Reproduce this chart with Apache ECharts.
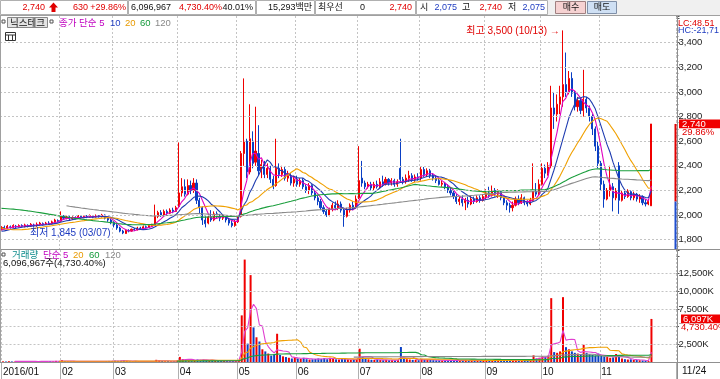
<!DOCTYPE html>
<html><head><meta charset="utf-8">
<script src="https://cdn.jsdelivr.net/npm/echarts@6/dist/echarts.min.js"></script>
<style>html,body{margin:0;padding:0;background:#fff}#c{width:720px;height:379px}</style>
</head><body><div id="c"></div>
<script>
// ---- data ----
const monthLabels = ['2016/01','02','03','04','05','06','07','08','09','10','11'];
const monthDays = [20,18,22,20,20,21,21,22,19,20,18];
const lastDateLabel = '11/24';
const emptySlots = 8;
// closes before the visible window (only used for the moving averages)
const priorCloses = [2450,2430,2420,2400,2410,2390,2370,2380,2350,2340,2330,2320,2300,2290,2280,2260,2250,2240,2230,2210,2200,2190,2180,2170,2160,2150,2140,2130,2120,
 1980,1950,1930,1910,1900,1910,1920,1900,1910,
 1960,1990,2010,2030,2050,2070,2080,2100,2110,2120,2130,2140,2150,2160,2170,2180,2190,2200,2210,
 2220,2210,2200,2200,2190,2190,2180,2180,2170,2170,2160,2160,2150,2150,2140,2140,2130,2130,2120,2110,
 2020,2000,1980,1960,1940,1920,1900,1890,1880,1870,1860,1860,1850,1850,1860,1860,1870,1870,1880,1880];
const opens = [
 1885,1900,1895,1905,1900,1910,1905,1915,1905,1915,1910,1920,1915,1925,1930,1925,1935,1930,1945,1955,
 1950,1990,1975,1985,1970,1980,1975,1990,1980,1990,1985,1995,1985,1995,1990,2000,1975,1960,
 1940,1920,1895,1870,1850,1875,1870,1885,1880,1895,1890,1905,1900,1915,1920,1990,2020,2000,2030,2015,2040,2030,
 2070,2180,2230,2170,2240,2200,2260,2120,2060,1960,1935,1985,1960,2010,1990,1975,1990,1960,1935,1915,
 1945,1990,2500,2600,2350,2600,2430,2500,2360,2410,2330,2380,2290,2240,2380,2330,2370,2300,2320,2260,
 2290,2250,2280,2230,2200,2240,2180,2140,2110,2060,2030,2000,2050,2080,2060,2090,2040,1990,2040,2080,2060,
 2140,2300,2260,2230,2250,2220,2250,2230,2270,2250,2290,2260,2280,2250,2380,2290,2270,2300,2320,2290,2310,
 2300,2370,2330,2360,2320,2300,2280,2250,2260,2230,2200,2180,2150,2110,2130,2100,2120,2090,2130,2110,2140,2120,
 2150,2180,2160,2200,2170,2190,2140,2100,2080,2060,2080,2130,2100,2140,2100,2090,2120,2200,2170,
 2250,2380,2340,2400,2870,2820,2900,2960,3060,3000,3110,2990,2880,2930,2850,2940,2870,2800,2700,2560,
 2420,2250,2130,2200,2230,2140,2400,2120,2180,2150,2190,2140,2170,2130,2150,2100,2090,2075];
const closes = [
 1900,1895,1910,1900,1915,1905,1915,1910,1920,1910,1925,1915,1925,1935,1925,1935,1930,1945,1960,1950,
 1995,1975,1985,1970,1980,1975,1990,1980,1990,1985,1995,1985,1995,1990,2000,1975,1960,1940,
 1920,1895,1870,1855,1875,1870,1885,1880,1895,1890,1905,1900,1915,1920,1990,2020,2000,2030,2015,2040,2030,2060,
 2180,2230,2170,2240,2200,2260,2120,2060,1960,1930,1985,1960,2010,1990,1975,1990,1960,1935,1915,1945,
 1990,2500,2600,2350,2620,2420,2520,2360,2410,2330,2380,2290,2230,2380,2330,2370,2300,2320,2260,2290,
 2250,2280,2230,2200,2240,2180,2140,2110,2060,2030,2000,2050,2080,2060,2090,2040,1990,2040,2080,2060,2130,
 2280,2260,2230,2250,2220,2250,2230,2270,2250,2290,2260,2280,2250,2270,2290,2270,2300,2320,2290,2310,2300,
 2370,2330,2360,2320,2300,2280,2250,2260,2230,2200,2180,2150,2110,2130,2100,2120,2090,2130,2110,2140,2120,2150,
 2180,2160,2200,2170,2190,2140,2100,2080,2060,2080,2130,2100,2140,2100,2090,2120,2200,2170,2250,
 2380,2340,2400,2870,2820,2900,2960,3060,3000,3110,2990,2880,2930,2850,2940,2870,2800,2700,2560,2420,
 2250,2130,2200,2230,2140,2200,2120,2180,2150,2190,2140,2170,2130,2150,2100,2090,2110,2740];
const lows = [
 1875,1885,1890,1890,1895,1895,1900,1900,1900,1900,1905,1905,1905,1915,1915,1920,1920,1925,1935,1940,
 1945,1965,1965,1960,1960,1965,1970,1970,1975,1975,1980,1975,1980,1980,1980,1965,1945,1925,
 1900,1880,1860,1845,1848,1860,1865,1870,1875,1880,1885,1890,1895,1905,1915,1975,1985,1995,2000,2010,2015,2025,
 2060,2150,2150,2160,2170,2180,2090,2010,1920,1900,1925,1945,1950,1975,1950,1960,1940,1915,1900,1905,
 1935,1980,2400,2300,2330,2380,2400,2320,2300,2300,2300,2260,2210,2230,2300,2310,2280,2270,2240,2230,
 2230,2230,2210,2180,2170,2160,2120,2080,2040,2010,1985,1990,2030,2040,2040,2020,1905,1980,2020,2040,2050,
 2130,2230,2210,2215,2200,2200,2215,2220,2230,2240,2240,2240,2230,2230,2270,2250,2255,2270,2270,2270,2280,
 2280,2310,2310,2300,2280,2260,2240,2230,2210,2180,2160,2130,2090,2080,2070,2040,2060,2080,2090,2100,2100,2110,
 2130,2140,2150,2150,2140,2120,2080,2040,2020,2030,2070,2080,2090,2080,2070,2080,2110,2150,2160,
 2240,2300,2320,2380,2700,2760,2820,2880,2960,2980,2960,2850,2840,2820,2800,2830,2760,2650,2520,2380,
 2200,2060,2120,2150,2030,2120,2010,2110,2130,2140,2120,2120,2110,2100,2080,2070,2080,2075];
const highs = [
 1910,1915,1920,1915,1925,1920,1925,1925,1930,1925,1935,1930,1940,1945,1940,1945,1950,1955,1970,1965,
 2030,2000,1995,1995,1990,1990,2000,2000,1995,2000,2005,2000,2005,2000,2010,2005,1985,1970,
 1950,1930,1905,1880,1880,1885,1890,1895,1905,1905,1915,1915,1920,1930,2085,2035,2040,2045,2045,2055,2060,2075,
 2590,2300,2290,2290,2280,2300,2290,2140,2070,1990,2010,2040,2030,2030,2010,2005,2000,1975,1955,1960,
 2000,2520,3110,2620,2900,2680,2880,2730,2450,2440,2420,2400,2320,2620,2420,2400,2390,2360,2340,2320,
 2320,2300,2300,2250,2260,2250,2200,2160,2130,2080,2050,2060,2100,2110,2120,2110,2060,2060,2095,2110,2160,
 2560,2440,2280,2270,2270,2270,2280,2300,2320,2310,2300,2300,2295,2290,2620,2310,2330,2360,2340,2330,2340,
 2390,2390,2380,2375,2340,2320,2300,2280,2270,2250,2220,2200,2170,2150,2160,2140,2150,2160,2150,2160,2160,2170,
 2210,2230,2240,2220,2210,2200,2150,2120,2100,2110,2150,2160,2170,2150,2120,2140,2420,2260,2290,
 2420,2410,2430,3050,3000,2980,3050,3500,3320,3170,3160,3010,2960,2950,3180,2960,2890,2820,2720,2600,
 2440,2280,2220,2400,2260,2220,2430,2200,2200,2210,2200,2190,2180,2170,2160,2130,2130,2740];
const volumeK = [
 90,70,110,80,60,95,75,120,85,70,100,65,80,140,90,75,110,85,160,95,
 260,120,90,80,110,70,95,85,120,75,90,80,100,70,110,130,150,140,
 180,160,170,210,120,90,85,110,95,80,100,75,90,120,310,220,150,110,130,100,120,180,
 720,420,300,260,240,280,350,310,330,250,200,230,190,160,150,140,170,130,150,180,
 250,6600,14500,2600,12300,4900,3500,2900,1800,1500,1200,900,1100,4000,1000,800,700,600,500,650,
 500,450,600,400,350,380,420,500,450,550,400,600,500,380,350,420,500,380,300,350,400,
 1880,700,450,380,320,300,350,280,260,300,250,270,230,260,2120,600,400,350,300,280,260,
 450,350,300,280,260,240,230,220,210,250,230,200,240,220,260,300,240,220,200,210,190,230,
 250,220,260,200,230,210,250,280,300,240,260,220,200,210,190,230,940,500,600,
 800,700,900,9040,1400,1300,1500,9180,2100,1800,1500,1300,1200,1000,2440,1300,1100,1000,900,1200,
 900,800,700,600,650,1130,900,500,400,350,380,300,280,250,220,200,129,6097];
const priceTicks = [1800,2000,2200,2400,2600,2800,3000,3200,3400];
const volumeTicks = [2500,5000,7500,10000,12500];
const priceMAs = [5,10,20,60,120];
const volumeMAs = [5,20,60,120];
const lastPrice = 2740, lastChangePct = '29.86%', prevClose = 2110, limitUp = 2740, limitDown = 1480;
const lastVolumeK = 6097, lastVolumePct = '4,730.40%';
const highNote = {index:190, value:3500, text:'최고 3,500 (10/13) →'};
const lowNote = {index:41, value:1845, text:'최저 1,845 (03/07)'};

// ---- build ----
const UP = '#f00000', DOWN = '#0a3fc4';
const maColors = {5:'#e000c0',10:'#1f3cb0',20:'#f0a000',60:'#1a9e3c',120:'#8a8a8a'};
const FONT = '"Liberation Sans","Noto Sans CJK KR",sans-serif';
const cats = [], monthStart = {};
let k = 0;
monthDays.forEach((d, m) => { monthStart[k] = monthLabels[m]; for (let j = 0; j < d; j++) cats.push(String(k++)); });
for (let j = 0; j < emptySlots; j++) cats.push('e' + j);
const isStart = i => monthStart[i] !== undefined;
const candles = opens.map((o, i) => [o, closes[i], lows[i], highs[i]]);
const allCloses = priorCloses.concat(closes);
function maPrice(n) {
  return closes.map((_, i) => {
    const e = i + priorCloses.length; if (e + 1 < n) return '-';
    let s = 0; for (let j = e - n + 1; j <= e; j++) s += allCloses[j]; return +(s / n).toFixed(1);
  });
}
function maVol(n) {
  return volumeK.map((_, i) => { if (i + 1 < n) return '-'; let s = 0; for (let j = i - n + 1; j <= i; j++) s += volumeK[j]; return +(s / n).toFixed(1); });
}
const volData = volumeK.map((v, i) => ({value: v, itemStyle: {color: closes[i] >= opens[i] ? UP : DOWN}}));
const fmt = v => Math.round(v).toLocaleString('en-US');

const PT = 16, PB = 249, VT = 250, VB = 362, GW = 676.5;
const pMax = 3400 + (42.7 - PT) * (1600 / 197), pMin = 1800 - (PB - 239.7) * (1600 / 197);
const vMax = (VB - VT) * (12500 / 88.3);

const dotted = {color: '#c4c4c4', type: [2, 2], width: 1};
const series = [
  {type: 'candlestick', xAxisIndex: 0, yAxisIndex: 0, data: candles, barWidth: 1.6, clip: false,
   itemStyle: {color: UP, color0: DOWN, borderColor: UP, borderColor0: DOWN, borderWidth: 1},
   markLine: {silent: true, symbol: 'none', animation: false, label: {show: false}, lineStyle: dotted,
     data: priceTicks.map(v => ({yAxis: v}))}},
  ...priceMAs.map(n => ({type: 'line', xAxisIndex: 0, yAxisIndex: 0, data: maPrice(n), symbol: 'none',
     lineStyle: {color: maColors[n], width: 1.1}, z: 3})),
  {type: 'bar', xAxisIndex: 1, yAxisIndex: 1, data: volData, barWidth: 2, clip: false,
   markLine: {silent: true, symbol: 'none', animation: false, label: {show: false}, lineStyle: dotted,
     data: volumeTicks.map(v => ({yAxis: v}))}},
  ...volumeMAs.map(n => ({type: 'line', xAxisIndex: 1, yAxisIndex: 1, data: maVol(n), symbol: 'none',
     lineStyle: {color: n === 5 ? '#e040d0' : maColors[n], width: 1.1}, z: 3})),
  {type: 'custom', xAxisIndex: 0, yAxisIndex: 0, data: [[0, limitUp, prevClose, limitDown]], clip: false, z: 5,
   renderItem: (params, api) => {
     const yU = api.coord([0, api.value(1)])[1], yP = api.coord([0, api.value(2)])[1];
     const yD = Math.min(api.coord([0, api.value(3)])[1], PB);
     return {type: 'group', children: [
       {type: 'rect', shape: {x: GW - 2, y: yU, width: 2, height: yP - yU}, style: {fill: '#e00000'}},
       {type: 'rect', shape: {x: GW - 2, y: yP, width: 2, height: yD - yP}, style: {fill: '#1f4fd0'}}]};
   }}
];

const xBase = {type: 'category', data: cats, boundaryGap: true, axisLine: {show: false},
  splitLine: {show: true, interval: i => isStart(i), lineStyle: dotted}};
const option = {
  animation: false, backgroundColor: '#ffffff',
  grid: [{left: 0, top: PT, width: GW, height: PB - PT}, {left: 0, top: VT, width: GW, height: VB - VT}],
  xAxis: [
    Object.assign({}, xBase, {gridIndex: 0, axisTick: {show: false}, axisLabel: {show: false}}),
    Object.assign({}, xBase, {gridIndex: 1,
      axisTick: {show: true, interval: i => isStart(i), length: 17, lineStyle: {color: '#b0b0b0'}},
      axisLabel: {show: true, interval: i => isStart(i), formatter: (v, i) => monthStart[i] || '',
        align: 'left', margin: 5, fontSize: 10, color: '#111', fontFamily: FONT}})
  ],
  yAxis: [
    {type: 'value', gridIndex: 0, position: 'right', min: pMin, max: pMax, splitNumber: 9, scale: true,
     axisLine: {show: false}, splitLine: {show: false},
     axisTick: {show: true, length: 3, lineStyle: {color: '#555'}},
     minorTick: {show: true, splitNumber: 4, length: 2, lineStyle: {color: '#888'}},
     axisLabel: {margin: 2, fontSize: 9.5, color: '#222', fontFamily: FONT,
       formatter: v => priceTicks.includes(Math.round(v)) && Math.abs(v - Math.round(v)) < 1e-6 ? fmt(v) : ''}},
    {type: 'value', gridIndex: 1, position: 'right', min: 0, max: vMax, interval: 2500,
     axisLine: {show: false}, splitLine: {show: false},
     axisTick: {show: true, length: 3, lineStyle: {color: '#555'}},
     axisLabel: {margin: 2, fontSize: 9.5, color: '#222', fontFamily: FONT,
       formatter: v => volumeTicks.includes(v) ? fmt(v) + 'K' : ''}}
  ],
  series
};
const chart = echarts.init(document.getElementById('c'), null, {renderer: 'canvas'});
chart.setOption(option);

// ---- texts and frame ----
const T = (text, x, y, fill, size, align) => ({type: 'text', silent: true, z: 100,
  style: {text, x, y, fill, font: (size || 9) + 'px ' + FONT, textAlign: align || 'left', textVerticalAlign: 'middle'}});
const L = (x1, y1, x2, y2, c) => ({type: 'line', silent: true, z: 90, shape: {x1, y1, x2, y2}, style: {stroke: c || '#a0a0a0', lineWidth: 1}});
const R = (x, y, w, h, fill, stroke) => ({type: 'rect', silent: true, z: 80, shape: {x, y, width: w, height: h}, style: {fill, stroke: stroke || null, lineWidth: 1}});
const yPrice = v => chart.convertToPixel({yAxisIndex: 0}, v);
const yVol = v => chart.convertToPixel({yAxisIndex: 1}, v);
const hp = chart.convertToPixel({xAxisIndex: 0, yAxisIndex: 0}, [highNote.index, highNote.value]);
const lp = chart.convertToPixel({xAxisIndex: 0, yAxisIndex: 0}, [lowNote.index, lowNote.value]);
const yLast = yPrice(lastPrice), yLastV = yVol(lastVolumeK);
const g = [
  R(0, 0, 720, 15.5, '#f0f0f0'),
  R(0.5, 0.5, 127, 14, '#ffffff', '#b0b0b0'), R(128.5, 0.5, 127, 14, '#ffffff', '#b0b0b0'),
  R(256.5, 0.5, 58, 14, '#ffffff', '#b0b0b0'), R(315.5, 0.5, 100, 14, '#ffffff', '#b0b0b0'),
  R(416.5, 0.5, 131, 14, '#ffffff', '#b0b0b0'),
  R(555.5, 1.5, 30, 12, '#f6d2d2', '#a08080'), R(587.5, 1.5, 29, 12, '#cfe0f4', '#8090a8'),
  T('2,740', 45, 8, '#e00000', 9, 'right'),
  {type: 'polygon', silent: true, z: 100, shape: {points: [[53.5, 2.5], [58, 7.5], [55.5, 7.5], [55.5, 12], [51.5, 12], [51.5, 7.5], [49, 7.5]]}, style: {fill: '#e00000'}},
  T('630', 88, 8, '#e00000', 9, 'right'), T('+29.86%', 126, 8, '#e00000', 9, 'right'),
  T('6,096,967', 131, 8, '#111'), T('4,730.40%', 222, 8, '#e00000', 9, 'right'), T('40.01%', 253, 8, '#111', 9, 'right'),
  T('15,293백만', 312, 8, '#111', 9, 'right'), T('최우선', 318, 8, '#111'),
  T('0', 360, 8, '#111'), T('2,740', 412, 8, '#e00000', 9, 'right'),
  T('시', 420, 8, '#111'), T('2,075', 457, 8, '#1f3cc0', 9, 'right'),
  T('고', 462, 8, '#111'), T('2,740', 502, 8, '#e00000', 9, 'right'),
  T('저', 508, 8, '#111'), T('2,075', 545, 8, '#1f3cc0', 9, 'right'),
  T('매수', 571, 8, '#111', 9, 'center'), T('매도', 602, 8, '#111', 9, 'center'),
  L(0, 15.5, 720, 15.5, '#a0a0a0'),
  // price panel title
  R(2, 20, 3, 3, null, '#555'),
  R(7.5, 17.5, 40, 10, '#e4e4e4', '#888'), T('닉스테크', 27.5, 23, '#111', 9.5, 'center'),
  R(50, 20, 3, 3, null, '#555'),
  T('종가 단순 5', 59, 23, '#c000c0', 9.5), T('10', 110, 23, '#1f3cc0', 9.5), T('20', 125, 23, '#e89a00', 9.5),
  T('60', 140, 23, '#139a3a', 9.5), T('120', 155, 23, '#888', 9.5),
  R(5.5, 32.5, 10, 8, '#fff', '#333'), L(5.5, 35, 15.5, 35, '#333'), L(8.5, 35, 8.5, 40.5, '#333'), L(12.5, 35, 12.5, 40.5, '#333'),
  T('LC:48.51', 678, 23.5, '#e00000', 9), T('HC:-21,71', 678, 30.5, '#1f3cc0', 9),
  // notes
  T(highNote.text, hp[0] - 3, hp[1] + 1, '#e00000', 10, 'right'),
  T(lowNote.text, lp[0] - 12, lp[1] - 1, '#1f3cc0', 10, 'right'),
  // right labels
  R(679, yLast - 4.5, 41, 9, '#f00000'), T(fmt(lastPrice), 682, yLast, '#ffffff', 9.5),
  R(679, yLast + 4.5, 41, 7, '#ffffff'), T(lastChangePct, 682, yLast + 8, '#e00000', 9.5),
  R(681, yLastV - 4.5, 39, 9, '#f00000'), T(fmt(lastVolumeK) + 'K', 683, yLastV, '#ffffff', 9.5),
  R(679, yLastV + 4.5, 41, 7, '#ffffff'), T(lastVolumePct, 681, yLastV + 8, '#e00000', 9.5),
  // frame
  L(0, PB + 0.5, 720, PB + 0.5, '#909090'), L(0, VB + 0.5, 720, VB + 0.5, '#909090'),
  L(GW + 1, PT, GW + 1, 379, '#909090'), L(0.5, PT, 0.5, VB, '#a0a0a0'),
  // volume title
  R(2, 253, 3, 3, null, '#555'),
  T('거래량', 12, 255, '#0a8a8a', 9.5), T('단순', 43, 255, '#c000c0', 9.5), T('5', 63, 255, '#c000c0', 9.5),
  T('20', 73, 255, '#e89a00', 9.5), T('60', 89, 255, '#139a3a', 9.5), T('120', 105, 255, '#888', 9.5),
  T('6,096,967주(4,730.40%)', 3, 263.5, '#111', 9.5),
  T(lastDateLabel, 682, 371, '#111', 10)
];
chart.setOption({graphic: {elements: g}});
</script></body></html>
